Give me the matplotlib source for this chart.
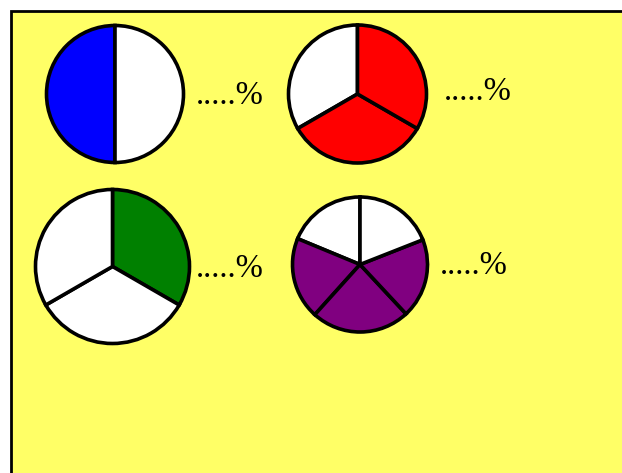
import matplotlib
matplotlib.use("Agg")
import matplotlib.pyplot as plt
from matplotlib.patches import Rectangle

# ---- data (slice sizes as drawn) ----
blue_slices = [1, 1]
blue_colors = ["#0000FF", "white"]

red_slices = [1, 1, 1]
red_colors = ["white", "#FF0000", "#FF0000"]

green_slices = [1, 1, 1]
green_colors = ["#008000", "white", "white"]

# fifths, as measured in degrees on the drawing
purple_slices = [67.5, 70.5, 85, 68.5, 68.5]
purple_colors = ["white", "#800080", "#800080", "#800080", "white"]

label_text = ".....%"

W, H = 622, 473
fig = plt.figure(figsize=(W / 100, H / 100), dpi=100)
fig.patch.set_facecolor("white")
ax = fig.add_axes([0, 0, 1, 1])

# yellow board with black top/left border
ax.add_patch(Rectangle((10.5, -30), 700, 461.7 + 30, facecolor="#FFFF66",
                       edgecolor="black", linewidth=2.0, zorder=0))

wp = dict(edgecolor="black", linewidth=2.6)

ax.pie(blue_slices, colors=blue_colors, startangle=90, counterclock=True,
       center=(115, 379), radius=68.5, frame=True, wedgeprops=wp)
ax.pie(red_slices, colors=red_colors, startangle=90, counterclock=True,
       center=(357.5, 379), radius=69, frame=True, wedgeprops=wp)
ax.pie(green_slices, colors=green_colors, startangle=90, counterclock=False,
       center=(112.5, 206.5), radius=77, frame=True, wedgeprops=wp)
ax.pie(purple_slices, colors=purple_colors, startangle=90, counterclock=True,
       center=(360, 208.5), radius=67.5, frame=True, wedgeprops=wp)

font = dict(family="Liberation Serif", fontsize=23.5, color="black",
            ha="left", va="baseline")
ax.text(196, H - 104, label_text, **font)
ax.text(443.5, H - 99.5, label_text, **font)
ax.text(196, H - 277, label_text, **font)
ax.text(439.5, H - 274, label_text, **font)

ax.set_xlim(0, W)
ax.set_ylim(0, H)
ax.set_aspect("auto")
ax.axis("off")

fig.savefig("out.png", dpi=100)
